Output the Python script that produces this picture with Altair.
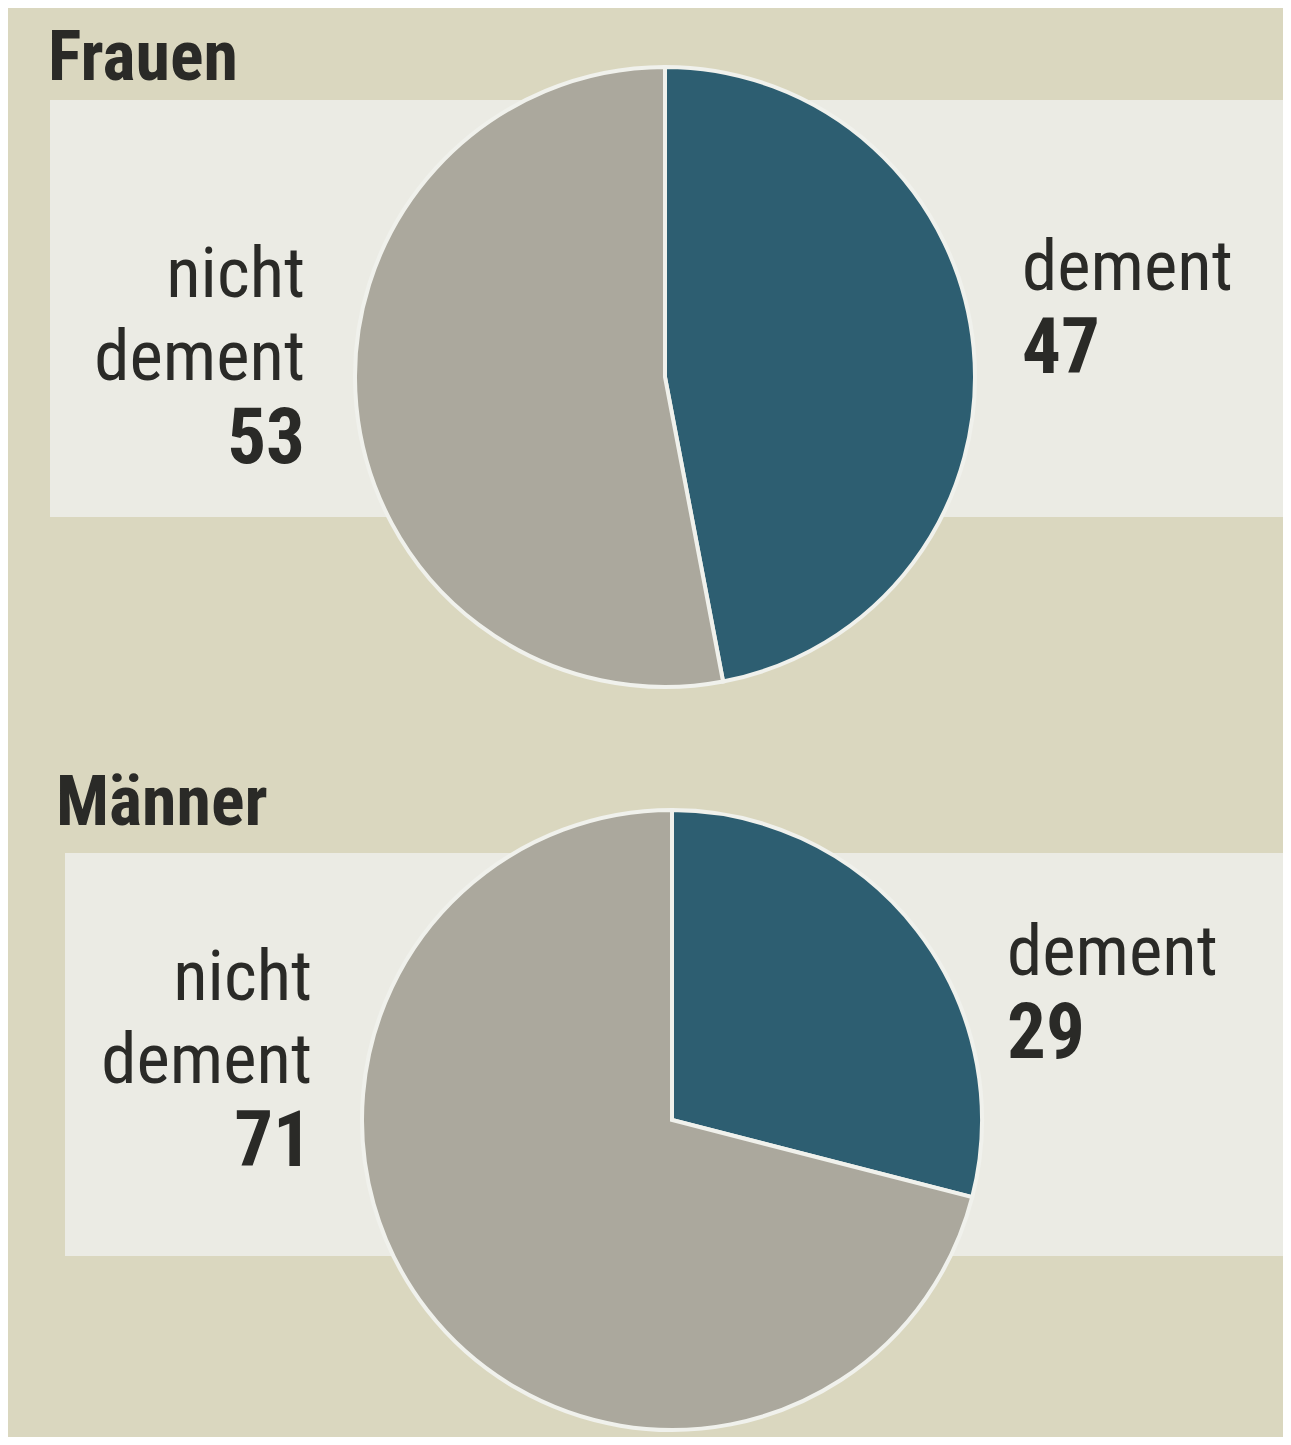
import altair as alt
import pandas as pd

# Data
groups = ["Frauen", "Männer"]
categories = ["dement", "nicht dement"]
dement_vals = [47, 29]
nicht_vals = [53, 71]

# Layout (page pixel coordinates)
W, H = 1291, 1445
OFF = 8
BG = "#dad7bf"
BAND = "#ebebe4"
TEAL = "#2d5e71"
GREY = "#aba89d"
FONT = "Liberation Sans Narrow, Roboto Condensed, DejaVu Sans Condensed, Arial Narrow, sans-serif"

centers = [(665, 377), (672, 1120)]
radius = 310
bands = [(50, 100, W, 517), (65, 853, W, 1256)]
title_pos = [(48, 80), (56, 825)]
left_pos = [(305, 297), (312, 1000)]
right_pos = [(1022, 290), (1007, 975)]
LS = 83

xs = alt.Scale(domain=[OFF, W - OFF], nice=False, zero=False)
ys = alt.Scale(domain=[OFF, H - OFF], nice=False, zero=False, reverse=True)

band_df = pd.DataFrame([{"x": b[0], "y": b[1], "x2": b[2], "y2": b[3]} for b in bands])
bands_layer = alt.Chart(band_df).mark_rect(color=BAND, clip=True).encode(
    x=alt.X("x:Q", scale=xs, axis=None), x2="x2:Q",
    y=alt.Y("y:Q", scale=ys, axis=None), y2="y2:Q")

rows = []
for i, g in enumerate(groups):
    cx, cy = centers[i]
    rows.append({"g": g, "cat": categories[0], "v": dement_vals[i], "o": 0, "cx": cx, "cy": cy})
    rows.append({"g": g, "cat": categories[1], "v": nicht_vals[i], "o": 1, "cx": cx, "cy": cy})
pie_df = pd.DataFrame(rows)

pies = []
for g in groups:
    pies.append(alt.Chart(pie_df[pie_df.g == g]).mark_arc(radius=radius, stroke="#f0f1ec", strokeWidth=4).encode(
        x=alt.X("cx:Q", scale=xs, axis=None),
        y=alt.Y("cy:Q", scale=ys, axis=None),
        theta=alt.Theta("v:Q", stack=True),
        order=alt.Order("o:Q"),
        color=alt.Color("cat:N", scale=alt.Scale(domain=categories, range=[TEAL, GREY]), legend=None)))

trows = []
for i, g in enumerate(groups):
    trows.append({"t": g, "x": title_pos[i][0], "y": title_pos[i][1], "a": "left", "w": "bold", "s": 70})
    lx, ly = left_pos[i]
    trows.append({"t": "nicht", "x": lx, "y": ly, "a": "right", "w": "normal", "s": 71})
    trows.append({"t": "dement", "x": lx, "y": ly + LS, "a": "right", "w": "normal", "s": 71})
    trows.append({"t": str(nicht_vals[i]), "x": lx, "y": ly + 2 * LS, "a": "right", "w": "bold", "s": 77})
    rx, ry = right_pos[i]
    trows.append({"t": "dement", "x": rx, "y": ry, "a": "left", "w": "normal", "s": 71})
    trows.append({"t": str(dement_vals[i]), "x": rx, "y": ry + LS, "a": "left", "w": "bold", "s": 77})
text_df = pd.DataFrame(trows)

texts = []
for a in ["left", "right"]:
    for w in ["bold", "normal"]:
        sub = text_df[(text_df.a == a) & (text_df.w == w)]
        for s in sorted(sub.s.unique()):
            d = sub[sub.s == s]
            texts.append(alt.Chart(d).mark_text(align=a, baseline="alphabetic", font=FONT,
                                                fontWeight=w, fontSize=int(s), color="#2a2a27").encode(
                x=alt.X("x:Q", scale=xs, axis=None),
                y=alt.Y("y:Q", scale=ys, axis=None),
                text="t:N"))

chart = alt.layer(bands_layer, *pies, *texts).properties(
    width=W - 2 * OFF, height=H - 2 * OFF, padding=0, autosize=alt.AutoSizeParams(type="none"),
    background=BG
).configure_view(fill=BG, stroke=None)

chart.save("out.html", embed_options={"renderer": "svg", "actions": False})
